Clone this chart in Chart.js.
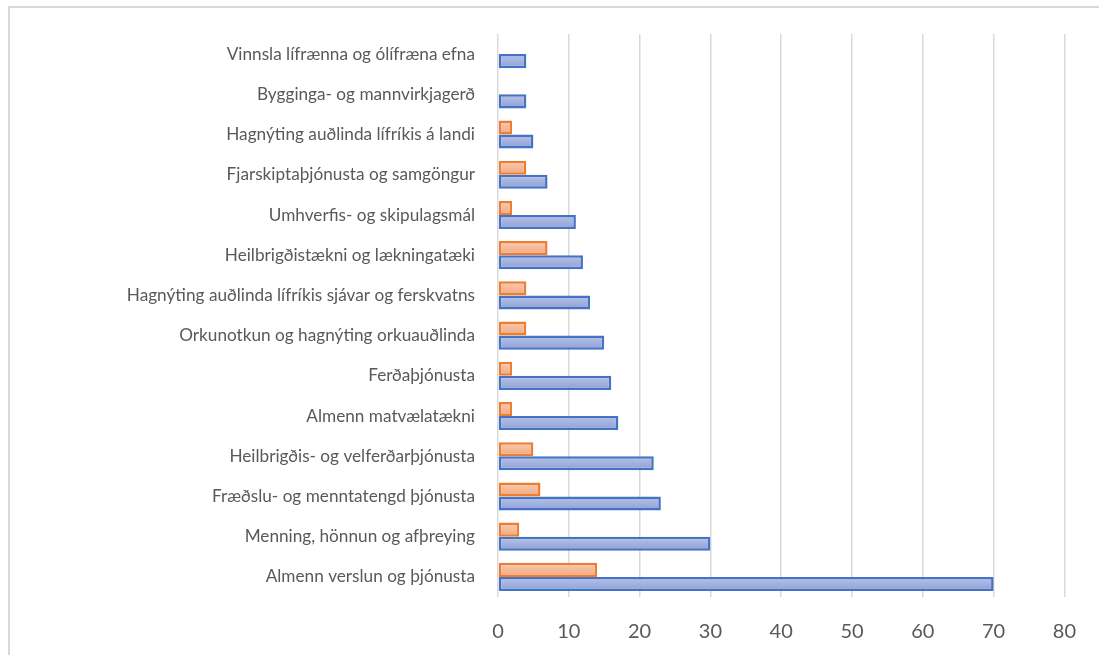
<!DOCTYPE html>
<html>
<head>
<meta charset="utf-8">
<script src="https://cdn.jsdelivr.net/npm/chart.js@4.4.1/dist/chart.umd.min.js"></script>
<style>
  html, body { margin: 0; padding: 0; background: #fff; }
  #wrap { position: relative; width: 1099px; height: 655px; overflow: hidden; }
  #frame { position: absolute; left: 8px; top: 6px; width: 1200px; height: 800px; border: 2px solid #d9d9d9; }
  #c { position: absolute; left: 0; top: 0; }
</style>
</head>
<body>
<div id="wrap">
  <div id="frame"></div>
  <canvas id="c" width="1099" height="655"></canvas>
</div>
<script>
// categories, top to bottom
const categories = [
    "Vinnsla lífrænna og ólífræna efna",
    "Bygginga- og mannvirkjagerð",
    "Hagnýting auðlinda lífríkis á landi",
    "Fjarskiptaþjónusta og samgöngur",
    "Umhverfis- og skipulagsmál",
    "Heilbrigðistækni og lækningatæki",
    "Hagnýting auðlinda lífríkis sjávar og ferskvatns",
    "Orkunotkun og hagnýting orkuauðlinda",
    "Ferðaþjónusta",
    "Almenn matvælatækni",
    "Heilbrigðis- og velferðarþjónusta",
    "Fræðslu- og menntatengd þjónusta",
    "Menning, hönnun og afþreying",
    "Almenn verslun og þjónusta"
];

// orange series (upper bar in each row)
const orangeValues = [0, 0, 2, 4, 2, 7, 4, 4, 2, 2, 5, 6, 3, 14];
// blue series (lower bar in each row)
const blueValues = [4, 4, 5, 7, 11, 12, 13, 15, 16, 17, 22, 23, 30, 70];

const xTicks = [0, 10, 20, 30, 40, 50, 60, 70, 80];

const CAT_PCT = 0.7;

// vertical gradient for each bar, light at the top
function barGradient(top, bottom, dsIndex) {
    return function (context) {
        const chart = context.chart;
        const y = chart.scales && chart.scales.y;
        if (!y || context.dataIndex === undefined) return bottom;
        const step = y.height / categories.length;
        const center = y.getPixelForValue(context.dataIndex);
        if (!isFinite(step) || !isFinite(center) || step <= 0) return bottom;
        const thick = step * CAT_PCT / 2;
        const y0 = center - step * CAT_PCT / 2 + dsIndex * thick;
        const g = chart.ctx.createLinearGradient(0, y0, 0, y0 + thick);
        g.addColorStop(0, top);
        g.addColorStop(1, bottom);
        return g;
    };
}

const ctx = document.getElementById('c').getContext('2d');
const chart = new Chart(ctx, {
    type: 'bar',
    data: {
        labels: categories,
        datasets: [{
            label: 'orange',
            data: orangeValues,
            backgroundColor: barGradient('#f9cdb3', '#f2a77c', 0),
            borderColor: '#ed7d31',
            borderWidth: 2.5,
            borderSkipped: false
        }, {
            label: 'blue',
            data: blueValues,
            backgroundColor: barGradient('#b7c3e8', '#8d9fd5', 1),
            borderColor: '#4472c4',
            borderWidth: 2.5,
            borderSkipped: false
        }]
    },
    options: {
        indexAxis: 'y',
        responsive: false,
        animation: false,
        layout: { padding: { top: 34, right: 31, bottom: 0, left: 0 } },
        datasets: { bar: { categoryPercentage: CAT_PCT, barPercentage: 1.0 } },
        scales: {
            x: {
                min: 0,
                max: 80,
                afterBuildTicks: function (scale) {
                    scale.ticks = xTicks.map(v => ({ value: v }));
                },
                afterFit: function (scale) { scale.height = 58; },
                grid: { color: '#d9d9d9', lineWidth: 1.5, drawTicks: false },
                border: { display: false },
                ticks: {
                    color: '#595959',
                    padding: 23,
                    font: { family: 'Lato', size: 20 }
                }
            },
            y: {
                afterFit: function (scale) { scale.width = 498; },
                grid: { display: false, drawTicks: false },
                border: { display: false },
                ticks: {
                    color: '#595959',
                    padding: 23,
                    autoSkip: false,
                    font: { family: 'Lato', size: 17.2 }
                }
            }
        },
        plugins: {
            legend: { display: false },
            tooltip: { enabled: false }
        }
    }
});
</script>
</body>
</html>
